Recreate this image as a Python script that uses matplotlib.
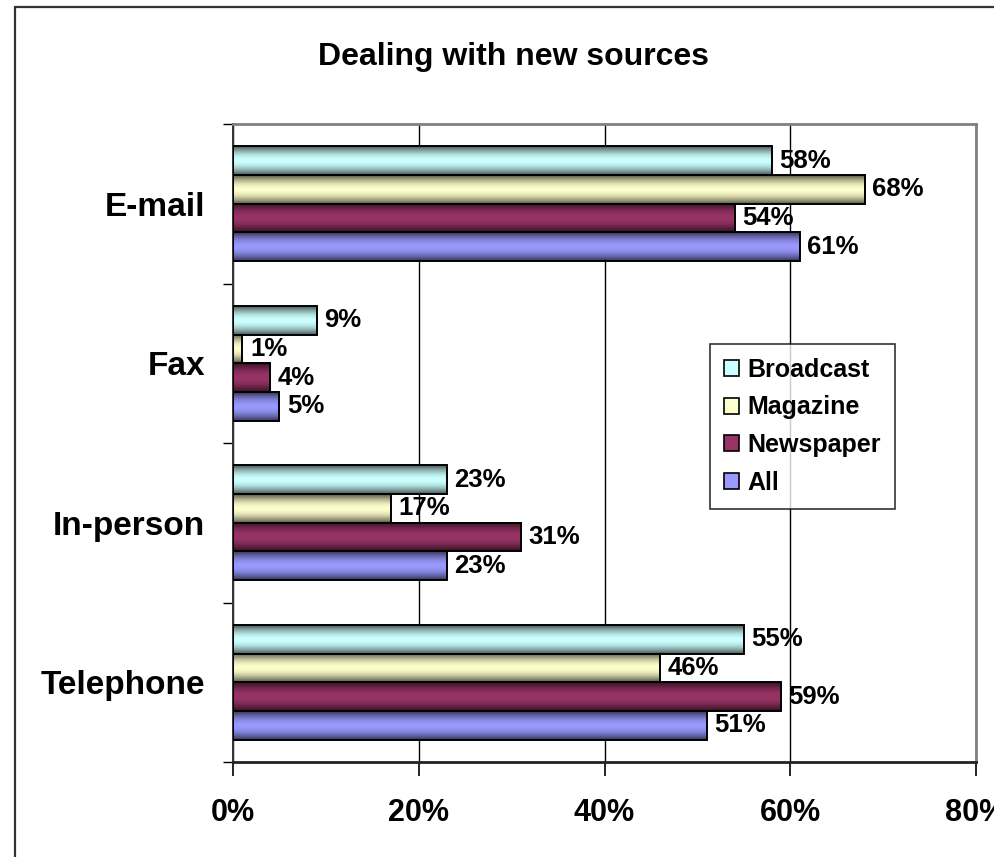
import matplotlib
import matplotlib.pyplot as plt
import numpy as np
from matplotlib.colors import to_rgb
from matplotlib.patches import Patch, Rectangle

matplotlib.use("Agg")

plt.rcParams["font.family"] = ["Liberation Sans", "DejaVu Sans"]
plt.rcParams["font.weight"] = "bold"

categories = ["Telephone", "In-person", "Fax", "E-mail"]
series = ["Broadcast", "Magazine", "Newspaper", "All"]
broadcast = [55, 23, 9, 58]
magazine = [46, 17, 1, 68]
newspaper = [59, 31, 4, 54]
all_sources = [51, 23, 5, 61]
colors = ["#CCFFFF", "#FFFFCC", "#993366", "#9999FF"]
xticks = [0, 20, 40, 60, 80]

values = [broadcast, magazine, newspaper, all_sources]

fig = plt.figure(figsize=(9.94, 8.57), dpi=100)
ax = fig.add_axes([233 / 994, 1 - 762 / 857, (976 - 233) / 994, (762 - 124) / 857])

# outer chart frame (runs off the right/bottom edge)
fig.patches.append(Rectangle((15 / 994, -0.1), 1.2, 1.1 - 7 / 857,
                             transform=fig.transFigure, fill=False,
                             edgecolor="#333333", lw=1.6))

fig.text(514 / 994, 1 - 57 / 857, "Dealing with new sources",
         ha="center", va="center", fontsize=23, fontweight="bold")

bar_h = 0.18
y = np.arange(len(categories))
offsets = [1.5 * bar_h, 0.5 * bar_h, -0.5 * bar_h, -1.5 * bar_h]

# cylinder-like shading across the bar height
t = np.linspace(0, 1, 64)
shade = 0.35 + 0.65 * np.sin(np.pi * t) ** 1.0

for vals, off, col, name in zip(values, offsets, colors, series):
    v = np.array(vals) / 100
    bars = ax.barh(y + off, v, height=bar_h, facecolor="none",
                   edgecolor="black", lw=1.4, zorder=4)
    base = np.array(to_rgb(col))
    grad = (shade[:, None] * base[None, :])[:, None, :]
    for rect, val in zip(bars, vals):
        x0, y0 = rect.get_x(), rect.get_y()
        w, h = rect.get_width(), rect.get_height()
        ax.imshow(grad, extent=[x0, x0 + w, y0, y0 + h], aspect="auto",
                  origin="lower", interpolation="bilinear", zorder=3)
        ax.annotate(f"{val}%", (x0 + w, y0 + h / 2), xytext=(5.5, 0),
                    textcoords="offset points", ha="left", va="center",
                    fontsize=18.5, fontweight="bold", zorder=5)

ax.set_xlim(0, 0.8)
ax.set_ylim(-0.5, len(categories) - 0.5)

ax.set_xticks([x / 100 for x in xticks])
ax.set_xticklabels([f"{x}%" for x in xticks], fontsize=22, fontweight="bold")
ax.tick_params(axis="x", length=10, width=1.2, pad=16, direction="out")
ax.grid(axis="x", color="black", lw=1.0, zorder=1)

ax.set_yticks(y)
ax.set_yticklabels(categories, fontsize=24, fontweight="bold")
ax.tick_params(axis="y", which="major", length=0, pad=20)
ax.set_yticks(np.arange(len(categories) + 1) - 0.5, minor=True)
ax.tick_params(axis="y", which="minor", length=7, width=1.0, direction="out")

for side in ["top", "right"]:
    ax.spines[side].set_color("#808080")
    ax.spines[side].set_linewidth(2)
ax.spines["left"].set_color("#333333")
ax.spines["left"].set_linewidth(1.4)
ax.spines["bottom"].set_color("#222222")
ax.spines["bottom"].set_linewidth(2)

handles = [Patch(facecolor=c, edgecolor="black", lw=1.2) for c in colors]
leg = fig.legend(handles, series, loc="upper left",
                 bbox_to_anchor=(710 / 994, 1 - 344 / 857),
                 prop={"size": 18, "weight": "bold"}, frameon=True,
                 fancybox=False, shadow=False, handlelength=0.6,
                 handleheight=0.6, handletextpad=0.35, labelspacing=0.55,
                 borderpad=0.55, borderaxespad=0)
leg.get_frame().set_edgecolor("black")
leg.get_frame().set_linewidth(1.2)

fig.savefig("out.png", dpi=100)
